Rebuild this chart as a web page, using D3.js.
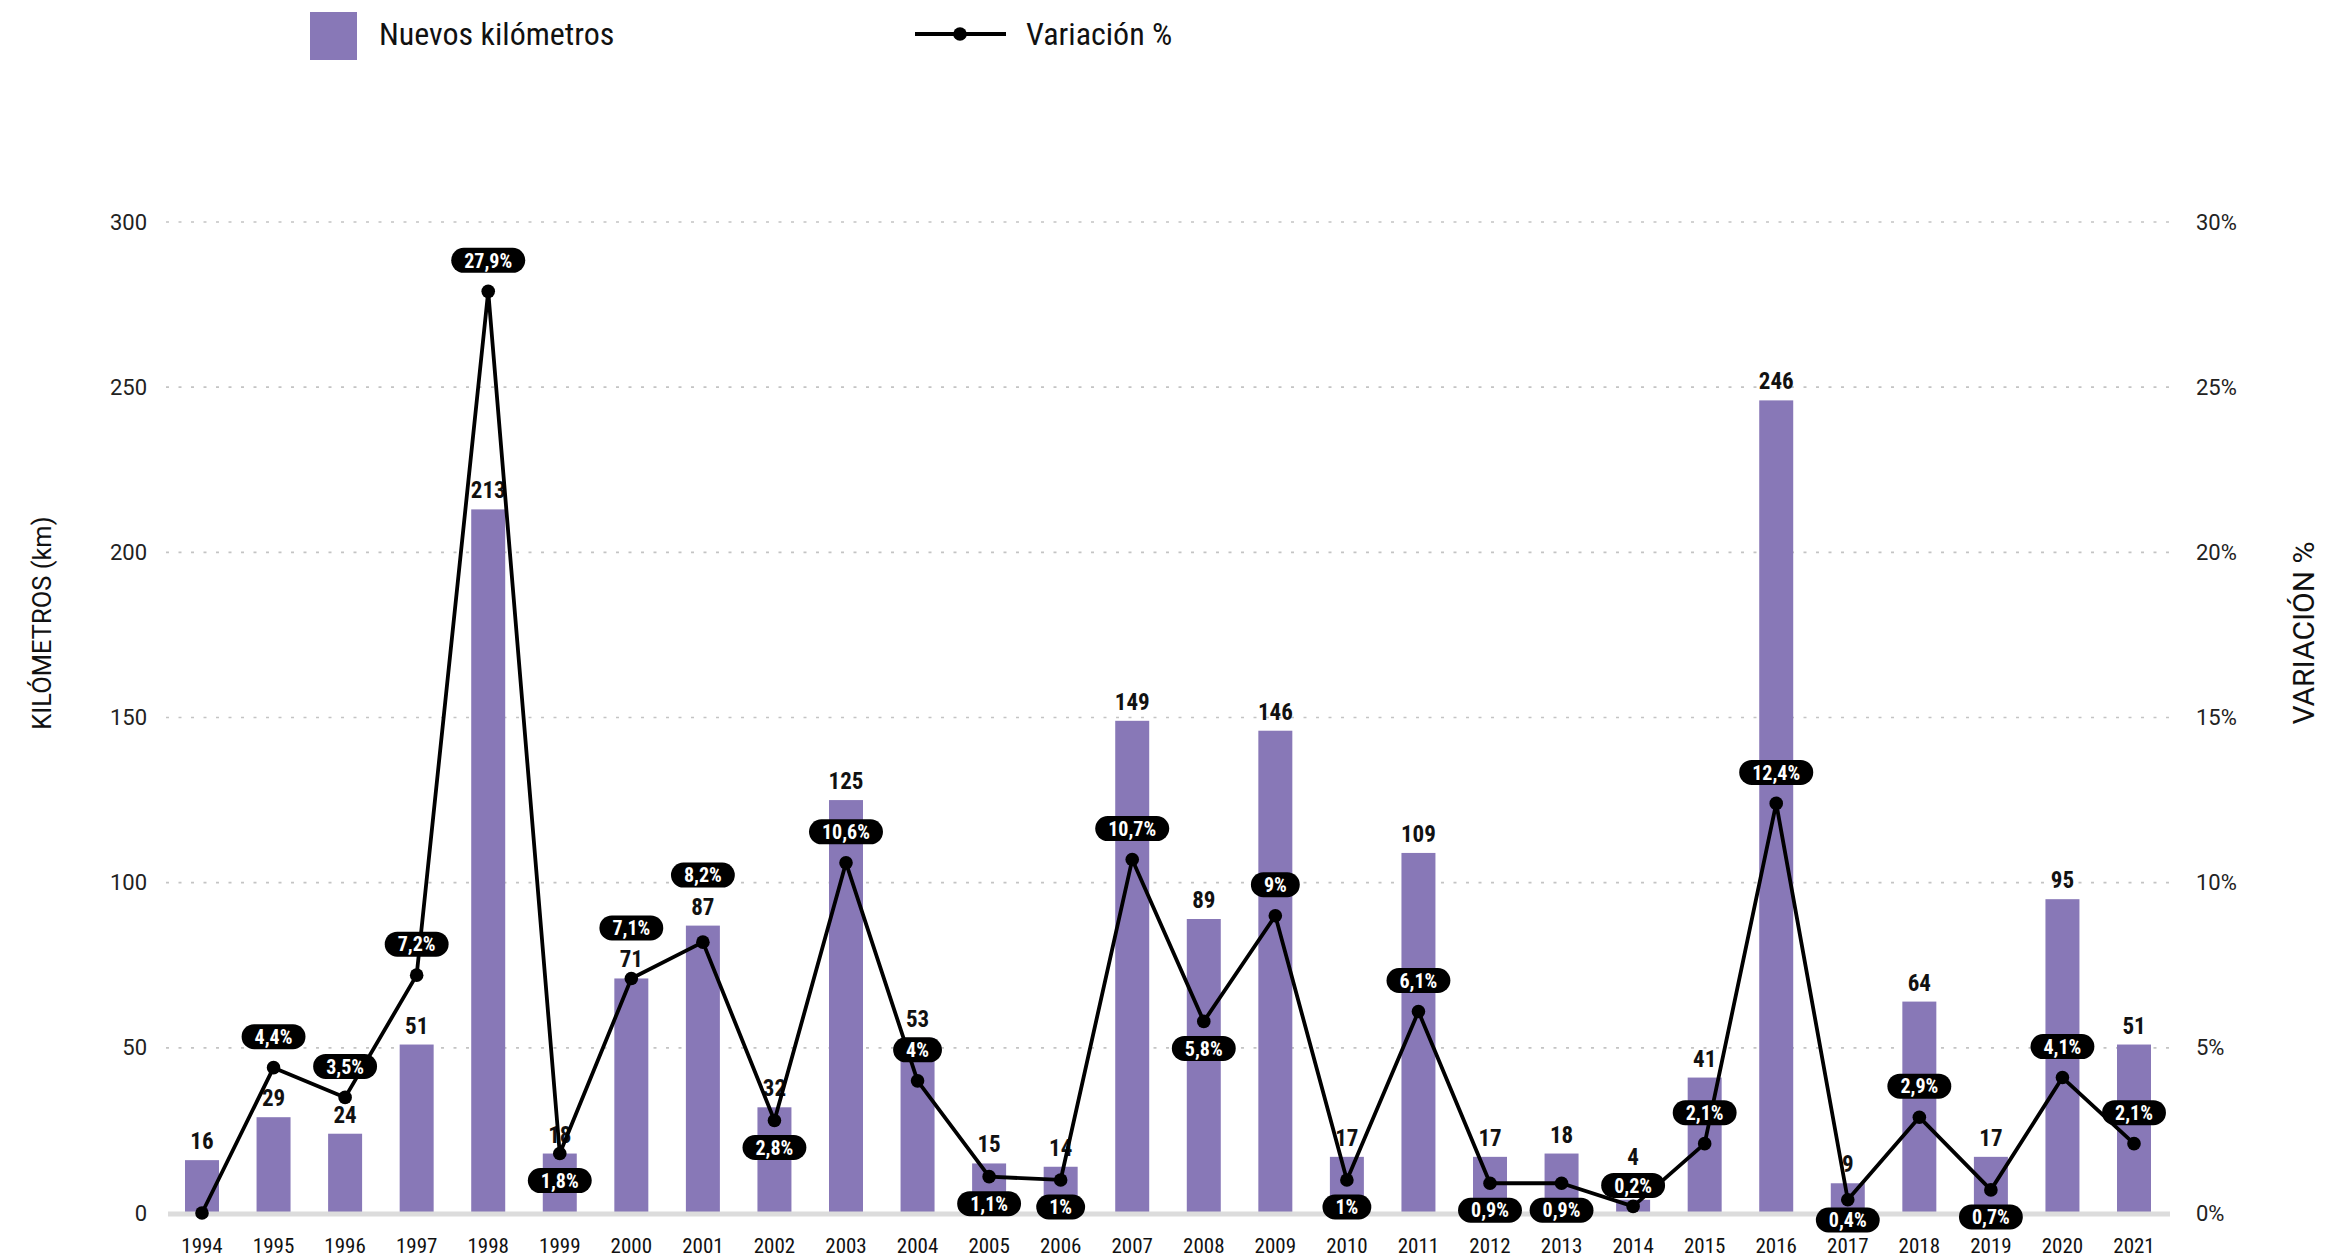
<!DOCTYPE html>
<html><head><meta charset="utf-8">
<script src="https://cdn.jsdelivr.net/npm/d3@7"></script>
<style>
body{margin:0;background:#fff;}
svg{display:block;}
.cond{font-family:"Liberation Sans Narrow","Roboto Condensed","Liberation Sans",sans-serif;}
</style></head>
<body>
<svg id="chart" width="2351" height="1259"></svg>
<script>
const years = ["1994","1995","1996","1997","1998","1999","2000","2001","2002","2003","2004","2005","2006","2007","2008","2009","2010","2011","2012","2013","2014","2015","2016","2017","2018","2019","2020","2021"];
const kilometers = [16,29,24,51,213,18,71,87,32,125,53,15,14,149,89,146,17,109,17,18,4,41,246,9,64,17,95,51];
const variation = [0,4.4,3.5,7.2,27.9,1.8,7.1,8.2,2.8,10.6,4,1.1,1,10.7,5.8,9,1,6.1,0.9,0.9,0.2,2.1,12.4,0.4,2.9,0.7,4.1,2.1];
const variationLabelPos = ["none","above","above","above","above","below","above","above","below","above","above","below","below","above","below","above","below","above","below","below","above","above","above","below","above","below","above","above"];
const leftTicks = [0,50,100,150,200,250,300];
const rightTicks = [0,5,10,15,20,25,30];

const svg = d3.select("#chart");
const purple = "#8878b7";
const x = d3.scaleBand().domain(years).range([185, 2151]).paddingInner(0.525).paddingOuter(0);
const y = d3.scaleLinear().domain([0,300]).range([1213, 222]);
const y2 = d3.scaleLinear().domain([0,30]).range([1213, 222]);
const cx = d => x(d) + x.bandwidth()/2;

// gridlines
svg.append("g").selectAll("line").data(leftTicks.filter(t=>t>0)).join("line")
  .attr("x1",166).attr("x2",2170).attr("y1",d=>y(d)).attr("y2",d=>y(d))
  .attr("stroke","#c4c4c4").attr("stroke-width",1.6).attr("stroke-dasharray","3,9.5");

// left axis
const la = svg.append("g").attr("transform","translate(147,0)")
  .call(d3.axisLeft(y).tickValues(leftTicks).tickSize(0).tickPadding(0));
la.select(".domain").remove();
la.selectAll("text").attr("font-family","Roboto, sans-serif").attr("font-size",22).attr("fill","#222");

// right axis
const ra = svg.append("g").attr("transform","translate(2196,0)")
  .call(d3.axisRight(y2).tickValues(rightTicks).tickSize(0).tickPadding(0).tickFormat(d=>d+"%"));
ra.select(".domain").remove();
ra.selectAll("text").attr("font-family","Roboto, sans-serif").attr("font-size",22).attr("fill","#222");

// bars
svg.append("g").selectAll("rect").data(years).join("rect")
  .attr("x",d=>x(d)).attr("width",x.bandwidth())
  .attr("y",(d,i)=>y(kilometers[i])).attr("height",(d,i)=>y(0)-y(kilometers[i]))
  .attr("fill",purple);

// baseline
svg.append("line").attr("x1",168).attr("x2",2170).attr("y1",y(0)+1).attr("y2",y(0)+1)
  .attr("stroke","#dcdcdc").attr("stroke-width",5);

// bottom axis
const ba = svg.append("g").attr("transform","translate(0,1238)")
  .call(d3.axisBottom(x).tickSize(0).tickPadding(0));
ba.select(".domain").remove();
ba.selectAll("text").attr("class","cond").attr("font-size",21).attr("fill","#111");

// label geometry
const pillH = 25, barFont = 23, barCap = 17, barGap = 11;
const pillAboveOff = 31, pillBelowOff = 27, pillMaxY = 1220;
const barLabelY = kilometers.map(k => y(k) - barGap);
const pillY = variation.map((v,i) => {
  const pos = variationLabelPos[i];
  if (pos === "none") return null;
  const py = y2(v);
  if (pos === "below") return Math.min(py + pillBelowOff, pillMaxY);
  return py - pillAboveOff;
});
// resolve collisions between pills (above) and bar labels
variation.forEach((v,i)=>{
  if (pillY[i] === null || variationLabelPos[i] !== "above") return;
  const pTop = pillY[i] - pillH/2, pBot = pillY[i] + pillH/2;
  const lTop = barLabelY[i] - barCap, lBot = barLabelY[i] + 2;
  if (pBot > lTop && pTop < lBot) {
    if (kilometers[i] < 10) {
      pillY[i] = y2(v) - 21;
      barLabelY[i] = pillY[i] - pillH/2 - 8;
    } else {
      pillY[i] = lTop - 10 - pillH/2;
    }
  }
});

// bar labels
svg.append("g").selectAll("text").data(years).join("text")
  .attr("x",d=>cx(d)).attr("y",(d,i)=>barLabelY[i])
  .attr("text-anchor","middle").attr("class","cond")
  .attr("font-weight","bold").attr("font-size",barFont).attr("fill","#111")
  .text((d,i)=>kilometers[i]);

// line
const line = d3.line().x((d,i)=>cx(years[i])).y(d=>y2(d));
svg.append("path").datum(variation).attr("d",line)
  .attr("fill","none").attr("stroke","#000").attr("stroke-width",3.8).attr("stroke-linejoin","round");
svg.append("g").selectAll("circle").data(variation).join("circle")
  .attr("cx",(d,i)=>cx(years[i])).attr("cy",d=>y2(d)).attr("r",6.8).attr("fill","#000");

// pills
const fmt = v => String(v).replace(".",",")+"%";
const pg = svg.append("g");
variation.forEach((v,i)=>{
  if(pillY[i]===null) return;
  const g = pg.append("g").attr("transform",`translate(${cx(years[i])},${pillY[i]})`);
  const t = g.append("text").attr("text-anchor","middle").attr("dy","0.36em").attr("class","cond")
    .attr("font-weight","bold").attr("font-size",20).attr("fill","#fff").text(fmt(v));
  const w = t.node().getComputedTextLength() + 26;
  g.insert("rect","text").attr("x",-w/2).attr("y",-pillH/2).attr("width",w).attr("height",pillH)
    .attr("rx",pillH/2).attr("fill","#000");
});

// axis titles
svg.append("text").attr("font-family","Roboto, sans-serif").attr("font-size",25.5).attr("fill","#111")
  .attr("text-anchor","middle").attr("dominant-baseline","central")
  .attr("transform","translate(42,623) rotate(-90)").text("KILÓMETROS (km)");
svg.append("text").attr("font-family","Roboto, sans-serif").attr("font-size",30).attr("fill","#111")
  .attr("text-anchor","middle").attr("dominant-baseline","central")
  .attr("transform","translate(2303,633) rotate(-90)").text("VARIACIÓN %");

// legend
svg.append("rect").attr("x",310).attr("y",12).attr("width",47).attr("height",48).attr("fill",purple);
svg.append("text").attr("class","cond").attr("x",379).attr("y",45).attr("font-size",32).attr("fill","#111").text("Nuevos kilómetros");
svg.append("line").attr("x1",915).attr("x2",1006).attr("y1",34).attr("y2",34).attr("stroke","#000").attr("stroke-width",3.8);
svg.append("circle").attr("cx",960).attr("cy",34).attr("r",6.8).attr("fill","#000");
svg.append("text").attr("class","cond").attr("x",1026).attr("y",45).attr("font-size",32).attr("fill","#111").text("Variación %");
</script>
</body></html>
